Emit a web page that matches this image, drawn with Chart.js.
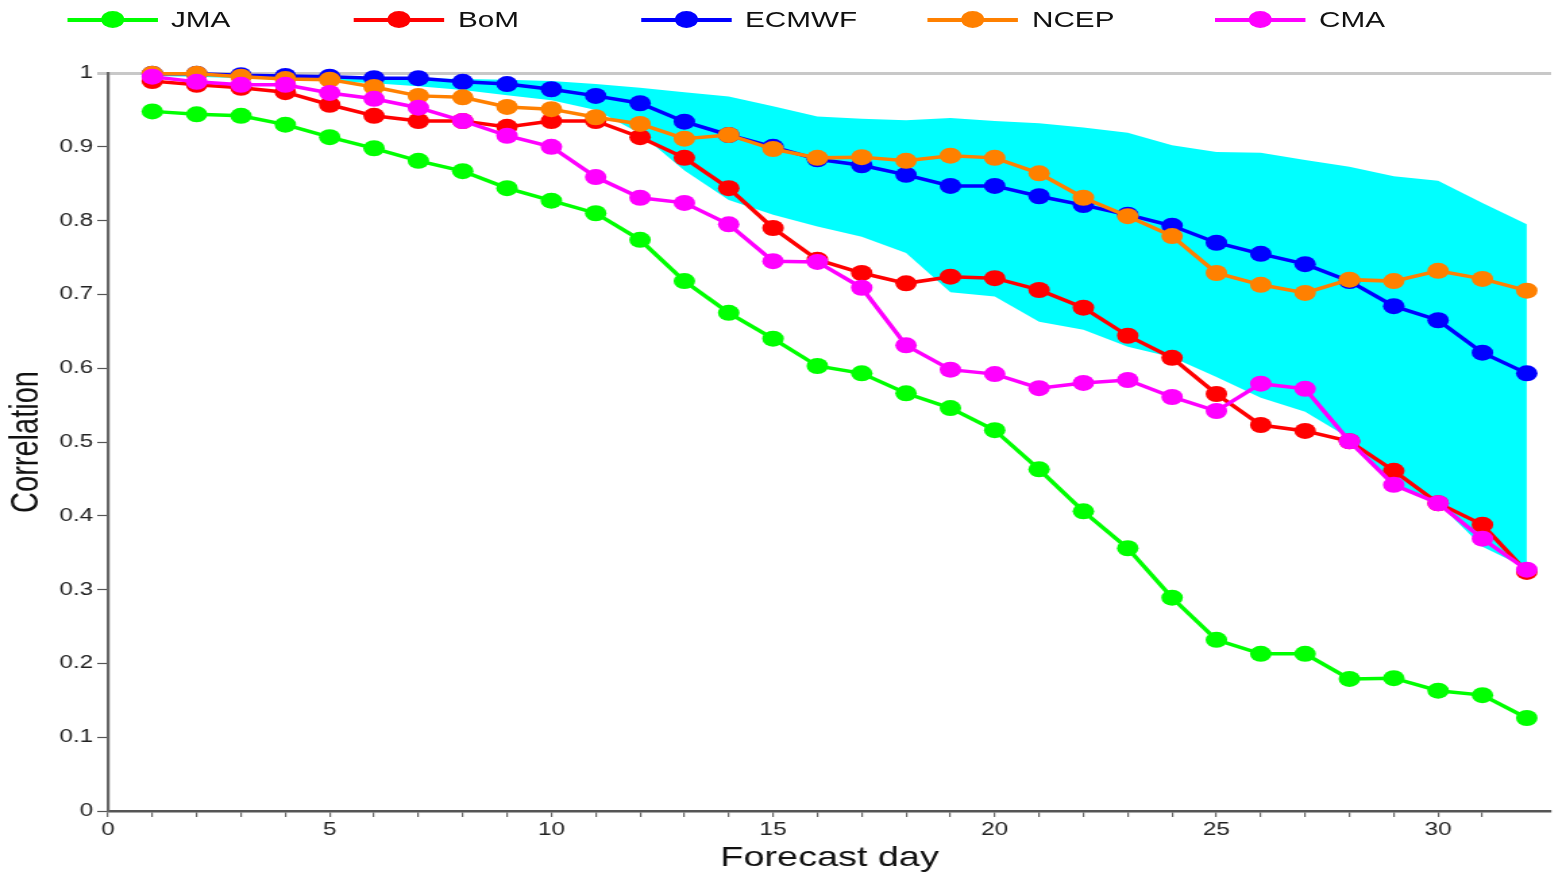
<!DOCTYPE html>
<html>
<head>
<meta charset="utf-8">
<script src="https://cdn.jsdelivr.net/npm/chart.js@4"></script>
<style>
  html, body { margin: 0; padding: 0; background: #fff; overflow: hidden; }
  /* the reference is stretched sideways, so the whole chart is drawn narrow and widened */
  #wrap { position: absolute; left: 0; top: 0; width: 1157px; height: 877px;
          transform: scaleX(1.35); transform-origin: 0 0; }
  #legend { position: absolute; left: 0; top: 0; width: 1157px; height: 40px;
            font-family: 'Liberation Sans', Arial, sans-serif; font-size: 22px; color: #111; }
  .item { position: absolute; top: 0; height: 40px; }
  .item .ln { position: absolute; left: 0; top: 18px; width: 67px; height: 4px; }
  .item .dot { position: absolute; left: 25px; top: 11px; width: 17px; height: 17px; border-radius: 50%; }
  .item .tx { position: absolute; left: 77px; top: 7px; white-space: nowrap; }
</style>
</head>
<body>
<div id="wrap">
  <canvas id="c" width="1157" height="877"></canvas>
  <div id="legend"></div>
</div>
<script>
const days = [1,2,3,4,5,6,7,8,9,10,11,12,13,14,15,16,17,18,19,20,21,22,23,24,25,26,27,28,29,30,31,32];

const seriesNames  = ['JMA', 'BoM', 'ECMWF', 'NCEP', 'CMA'];
const seriesColors = ['#00ff00', '#ff0000', '#0000ff', '#ff8000', '#ff00ff'];

const jma   = [0.948,0.944,0.942,0.930,0.913,0.898,0.881,0.867,0.844,0.827,0.810,0.774,0.718,0.675,0.640,0.603,
               0.593,0.566,0.546,0.516,0.463,0.406,0.356,0.289,0.232,0.213,0.213,0.179,0.180,0.163,0.157,0.126];
const bom   = [0.989,0.984,0.980,0.974,0.957,0.942,0.935,0.935,0.927,0.935,0.935,0.913,0.885,0.844,0.790,0.747,
               0.729,0.715,0.724,0.722,0.706,0.682,0.644,0.614,0.565,0.523,0.515,0.501,0.461,0.417,0.388,0.324];
const ecmwf = [0.999,0.999,0.997,0.996,0.995,0.993,0.993,0.988,0.985,0.978,0.969,0.959,0.934,0.916,0.900,0.883,
               0.875,0.862,0.847,0.847,0.833,0.821,0.808,0.793,0.770,0.755,0.741,0.718,0.684,0.665,0.621,0.593];
const ncep  = [0.999,0.999,0.995,0.992,0.991,0.981,0.969,0.967,0.954,0.951,0.940,0.931,0.911,0.916,0.897,0.885,
               0.886,0.881,0.888,0.885,0.864,0.831,0.806,0.779,0.729,0.713,0.702,0.720,0.718,0.732,0.721,0.705];
const cma   = [0.995,0.988,0.984,0.984,0.973,0.965,0.953,0.935,0.915,0.900,0.859,0.831,0.824,0.795,0.745,0.744,
               0.709,0.631,0.598,0.592,0.573,0.580,0.584,0.561,0.542,0.579,0.572,0.501,0.442,0.417,0.369,0.327];

// spread band (cyan)
const bandUpper = [0.997,0.997,0.996,0.996,0.995,0.994,0.993,0.992,0.991,0.989,0.985,0.980,0.974,0.968,0.955,0.941,
                   0.938,0.936,0.939,0.935,0.932,0.926,0.919,0.902,0.893,0.892,0.882,0.873,0.860,0.854,0.824,0.795];
const bandLower = [0.996,0.995,0.993,0.991,0.989,0.986,0.982,0.977,0.970,0.963,0.950,0.918,0.868,0.828,0.808,0.792,
                   0.778,0.756,0.703,0.697,0.663,0.652,0.629,0.615,0.588,0.560,0.541,0.505,0.440,0.417,0.358,0.329];

const xTickLabels = ['0','5','10','15','20','25','30'];
const yTickLabels = ['0','0.1','0.2','0.3','0.4','0.5','0.6','0.7','0.8','0.9','1'];

const FONT = "'Liberation Sans', Arial, sans-serif";
const pts = arr => days.map((d, i) => ({ x: d, y: arr[i] }));

function seriesSet(i, arr){
  return {
    label: seriesNames[i], data: pts(arr),
    borderColor: seriesColors[i], backgroundColor: seriesColors[i],
    borderWidth: 3.5, pointRadius: 8, pointBorderWidth: 0, pointHoverRadius: 8,
    tension: 0, fill: false, clip: false, order: 5 - i,
  };
}

// legend
const legend = document.getElementById('legend');
seriesNames.forEach((name, i) => {
  const it = document.createElement('div');
  it.className = 'item';
  it.style.left = (49.6 + i * 212.6) + 'px';
  it.innerHTML = `<div class="ln" style="background:${seriesColors[i]}"></div>` +
                 `<div class="dot" style="background:${seriesColors[i]}"></div>` +
                 `<div class="tx">${name}</div>`;
  legend.appendChild(it);
});

new Chart(document.getElementById('c'), {
  type: 'line',
  data: {
    datasets: [
      { label: 'lower', data: pts(bandLower), borderWidth: 0, pointRadius: 0, fill: false, order: 20 },
      { label: 'upper', data: pts(bandUpper), borderWidth: 0, pointRadius: 0,
        backgroundColor: '#00ffff', fill: '-1', order: 19 },
      seriesSet(0, jma),
      seriesSet(1, bom),
      seriesSet(2, ecmwf),
      seriesSet(3, ncep),
      seriesSet(4, cma),
    ]
  },
  options: {
    responsive: false, animation: false, maintainAspectRatio: false,
    layout: { padding: { top: 73, left: 0, right: 0, bottom: 0 } },
    plugins: {
      legend: { display: false },
      tooltip: { enabled: false },
      filler: { drawTime: 'beforeDatasetsDraw' },
    },
    scales: {
      x: {
        type: 'linear', min: 0, max: 32.55,
        afterBuildTicks: s => { s.ticks = s.ticks.filter(t => Number.isInteger(t.value)); },
        afterFit: s => { s.height = 66; },
        ticks: { stepSize: 1, autoSkip: false, maxRotation: 0, padding: 2,
                 color: '#222', font: { family: FONT, size: 18 },
                 callback: v => xTickLabels.includes(String(v)) ? String(v) : '' },
        grid: { drawOnChartArea: false, drawTicks: true, tickLength: 6, color: '#666', lineWidth: 1.2 },
        border: { display: true, color: '#555', width: 2.5 },
        title: { display: true, text: 'Forecast day', color: '#111',
                 font: { family: FONT, size: 28 }, padding: { top: 0, bottom: 2 } },
      },
      y: {
        min: 0, max: 1,
        afterFit: s => { s.width = 80; },
        ticks: { stepSize: 0.1, padding: 3, color: '#222', font: { family: FONT, size: 18 },
                 callback: v => yTickLabels[Math.round(v * 10)] },
        grid: {
          drawTicks: true, tickLength: 8,
          color: c => (c.tick && c.tick.value === 1) ? '#c8c8c8' : 'rgba(0,0,0,0)',
          lineWidth: c => (c.tick && c.tick.value === 1) ? 3 : 1,
          tickColor: c => (c.tick && c.tick.value === 1) ? '#c8c8c8' : '#555',
          tickWidth: c => (c.tick && c.tick.value === 1) ? 3 : 1.2,
        },
        border: { display: true, color: '#666', width: 2.2 },
        title: { display: true, text: 'Correlation', color: '#111',
                 font: { family: FONT, size: 29 }, padding: { top: 3, bottom: 0 } },
      }
    }
  }
});
</script>
</body>
</html>
